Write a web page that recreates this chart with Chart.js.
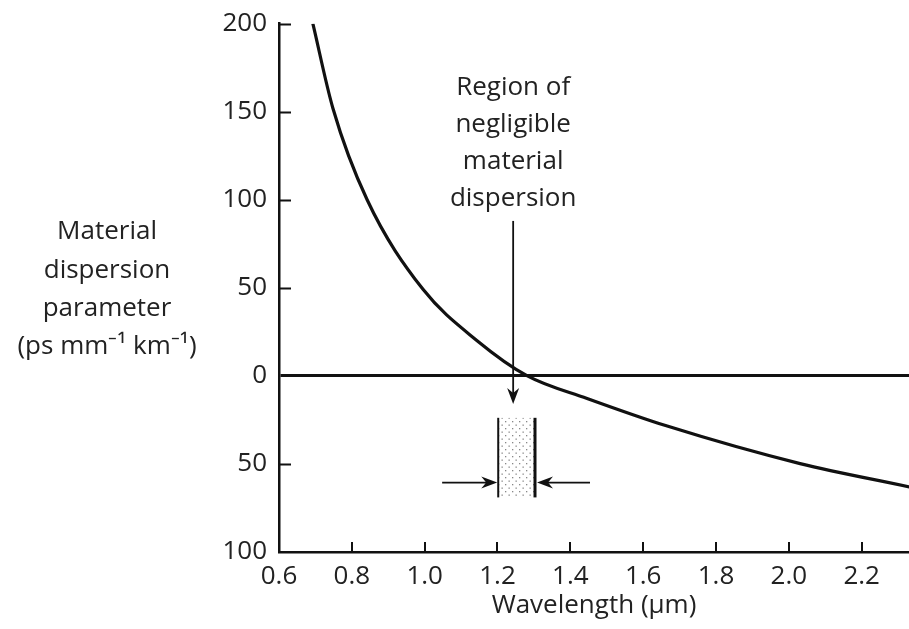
<!DOCTYPE html>
<html>
<head>
<meta charset="utf-8">
<script src="https://cdn.jsdelivr.net/npm/chart.js@4/dist/chart.umd.min.js"></script>
<style>
  html, body { margin: 0; padding: 0; background: #fff; }
  canvas { display: block; }
</style>
</head>
<body>
<canvas id="chart" width="909" height="629"></canvas>
<script>
// Werte
const wavelength = [0.693, 0.748, 0.842, 0.996, 1.144, 1.282, 1.446, 1.666, 2.031, 2.331];
const dispersion = [200, 152, 100, 49, 20, 0, -12.8, -28.5, -49.8, -63];

const xTicks = [0.6, 0.8, 1.0, 1.2, 1.4, 1.6, 1.8, 2.0, 2.2];
const yTicks = [200, 150, 100, 50, 0, -50, -100];

const yTitleLines = ['Material', 'dispersion', 'parameter', '(ps mm\u207B\u00B9 km\u207B\u00B9)'];
const noteLines = ['Region of', 'negligible', 'material', 'dispersion'];

// Bereich vernachlässigbarer Dispersion (in Achsenwerten)
const region = { from: 1.202, to: 1.303, top: -23.8, bottom: -69 };
const arrowX = 1.243;
const arrowTop = 88;
const arrowTip = -16;
const sideArrowY = -60.6;
const sideArrowLeft = 1.048;
const sideArrowRight = 1.454;

const FONT = 'Open Sans';
const INK = '#111';

// Punktraster für die Schraffur
function dotPattern(ctx) {
  const c = document.createElement('canvas');
  c.width = 7; c.height = 7;
  const p = c.getContext('2d');
  p.fillStyle = '#fff';
  p.fillRect(0, 0, 7, 7);
  p.fillStyle = '#888';
  p.fillRect(1, 1, 1.3, 1.3);
  p.fillRect(4.5, 4.5, 1.3, 1.3);
  return ctx.createPattern(c, 'repeat');
}

function arrowHead(ctx, x, y, dir) {
  // dir: 'down', 'right', 'left'
  ctx.beginPath();
  if (dir === 'down') {
    ctx.moveTo(x, y);
    ctx.lineTo(x - 6, y - 16);
    ctx.lineTo(x, y - 11);
    ctx.lineTo(x + 6, y - 16);
  } else if (dir === 'right') {
    ctx.moveTo(x, y);
    ctx.lineTo(x - 16, y - 6);
    ctx.lineTo(x - 11, y);
    ctx.lineTo(x - 16, y + 6);
  } else {
    ctx.moveTo(x, y);
    ctx.lineTo(x + 16, y - 6);
    ctx.lineTo(x + 11, y);
    ctx.lineTo(x + 16, y + 6);
  }
  ctx.closePath();
  ctx.fill();
}

const overlay = {
  id: 'overlay',
  afterDraw(chart) {
    const { ctx, scales: { x, y } } = chart;
    ctx.save();
    ctx.strokeStyle = INK;
    ctx.fillStyle = INK;

    // Teilstriche nach innen
    ctx.lineWidth = 2;
    ctx.beginPath();
    yTicks.forEach(v => {
      if (v === 0 || v === -100) return;
      const py = Math.round(y.getPixelForValue(v)) + 0.5;
      ctx.moveTo(x.left, py);
      ctx.lineTo(x.left + 12, py);
    });
    xTicks.forEach(v => {
      if (v === 0.6) return;
      const px = Math.round(x.getPixelForValue(v));
      ctx.moveTo(px, y.bottom);
      ctx.lineTo(px, y.bottom - 10);
    });
    ctx.stroke();

    // y-Achsentitel (waagerecht)
    ctx.font = '26px "' + FONT + '"';
    ctx.fillStyle = '#222';
    ctx.textAlign = 'center';
    ctx.textBaseline = 'middle';
    yTitleLines.forEach((t, i) => ctx.fillText(t, 107, 232 + i * 38.3));

    // Beschriftung des Bereichs
    const ax = x.getPixelForValue(arrowX);
    noteLines.forEach((t, i) => ctx.fillText(t, ax, 88 + i * 37));

    // senkrechter Pfeil
    ctx.fillStyle = INK;
    ctx.lineWidth = 1.8;
    const ty = y.getPixelForValue(arrowTip);
    ctx.beginPath();
    ctx.moveTo(ax, y.getPixelForValue(arrowTop));
    ctx.lineTo(ax, ty - 10);
    ctx.stroke();
    arrowHead(ctx, ax, ty, 'down');

    // schraffiertes Rechteck
    const rl = x.getPixelForValue(region.from);
    const rr = x.getPixelForValue(region.to);
    const rt = y.getPixelForValue(region.top);
    const rb = y.getPixelForValue(region.bottom);
    ctx.fillStyle = dotPattern(ctx);
    ctx.fillRect(rl, rt, rr - rl, rb - rt);
    ctx.fillStyle = INK;
    ctx.lineWidth = 2;
    ctx.beginPath();
    ctx.moveTo(rl, rt); ctx.lineTo(rl, rb);
    ctx.stroke();
    ctx.lineWidth = 3;
    ctx.beginPath();
    ctx.moveTo(rr, rt); ctx.lineTo(rr, rb);
    ctx.stroke();

    // seitliche Pfeile
    const sy = y.getPixelForValue(sideArrowY);
    ctx.lineWidth = 1.8;
    ctx.beginPath();
    ctx.moveTo(x.getPixelForValue(sideArrowLeft), sy);
    ctx.lineTo(rl - 10, sy);
    ctx.moveTo(x.getPixelForValue(sideArrowRight), sy);
    ctx.lineTo(rr + 10, sy);
    ctx.stroke();
    arrowHead(ctx, rl - 1, sy, 'right');
    arrowHead(ctx, rr + 2, sy, 'left');

    ctx.restore();
  }
};

const ctx = document.getElementById('chart').getContext('2d');
const chart = new Chart(ctx, {
  type: 'scatter',
  data: {
    datasets: [{
      data: wavelength.map((w, i) => ({ x: w, y: dispersion[i] })),
      showLine: true,
      borderColor: INK,
      borderWidth: 3.2,
      pointRadius: 0,
      cubicInterpolationMode: 'monotone',
      fill: false,
    }],
  },
  options: {
    responsive: false,
    animation: false,
    devicePixelRatio: 1,
    layout: { padding: { top: 22, left: 0, right: 0, bottom: 0 } },
    plugins: { legend: { display: false }, tooltip: { enabled: false } },
    scales: {
      x: {
        type: 'linear',
        min: 0.6,
        max: 2.33,
        afterFit: s => { s.height = 77; },
        afterBuildTicks: s => { s.ticks = xTicks.map(v => ({ value: v })); },
        border: { display: true, color: INK, width: 2.5 },
        grid: { display: false, drawTicks: false },
        ticks: {
          padding: 9,
          color: '#222',
          font: { family: FONT, size: 26 },
          callback: v => v.toFixed(1),
        },
        title: {
          display: true,
          text: 'Wavelength (\u03BCm)',
          color: '#222',
          font: { family: FONT, size: 26 },
          padding: { top: 0, bottom: 8 },
        },
      },
      y: {
        type: 'linear',
        min: -100,
        max: 200,
        afterFit: s => { s.width = 279; },
        afterBuildTicks: s => { s.ticks = yTicks.map(v => ({ value: v })); },
        border: { display: true, color: INK, width: 2.5 },
        grid: {
          drawTicks: false,
          drawOnChartArea: true,
          color: c => (c.tick && c.tick.value === 0 ? INK : 'rgba(0,0,0,0)'),
          lineWidth: c => (c.tick && c.tick.value === 0 ? 3 : 0),
        },
        ticks: {
          padding: 12,
          color: '#222',
          font: { family: FONT, size: 26, lineHeight: 0.9 },
          callback: v => String(Math.abs(v)),
        },
      },
    },
  },
  plugins: [overlay],
});
</script>
</body>
</html>
